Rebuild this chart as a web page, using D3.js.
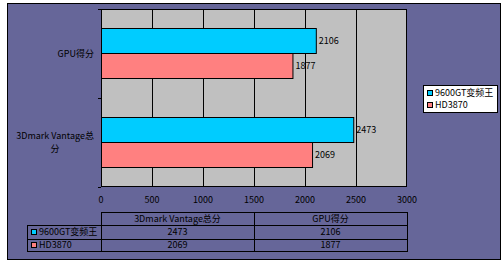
<!DOCTYPE html>
<html>
<head>
<meta charset="utf-8">
<script src="https://cdn.jsdelivr.net/npm/d3@7"></script>
<style>
body { margin: 0; background: #fff; }
text { font-family: "Noto Sans CJK SC", sans-serif; font-size: 9px; fill: #000; }
</style>
</head>
<body>
<div id="chart"></div>
<script>
// data
var categories = ['3Dmark Vantage总分', 'GPU得分'];
var seriesNames = ['9600GT变频王', 'HD3870'];
var seriesColors = ['#00ccff', '#ff8080'];
var values9600 = [2473, 2106];
var valuesHD = [2069, 1877];
var xTicks = [0, 500, 1000, 1500, 2000, 2500, 3000];

var series = [
    {name: seriesNames[0], color: seriesColors[0], values: values9600},
    {name: seriesNames[1], color: seriesColors[1], values: valuesHD}
];

var w = 504, h = 266;
var svg = d3.select('#chart').append('svg')
    .attr('width', w)
    .attr('height', h);

// outer frame
svg.append('rect')
    .attr('x', 7.5).attr('y', 3.5)
    .attr('width', 493).attr('height', 256)
    .attr('fill', '#666699')
    .attr('stroke', '#000');

var x = d3.scaleLinear().domain([0, 3000]).range([101, 407]);
// category order reversed like excel: first category at bottom
var y0 = d3.scaleBand().domain(categories.slice().reverse()).range([9, 187])
    .paddingInner(0.427).paddingOuter(0.2135);
var y1 = d3.scaleBand().domain(seriesNames).range([0, y0.bandwidth()]);

// plot background
svg.append('rect')
    .attr('x', x(0)).attr('y', 9)
    .attr('width', x(3000) - x(0)).attr('height', 178)
    .attr('fill', '#c0c0c0');

// gridlines
svg.append('g').selectAll('line')
    .data(xTicks.slice(1, -1))
    .enter().append('line')
    .attr('x1', function (d) { return Math.round(x(d)) + 0.5; })
    .attr('x2', function (d) { return Math.round(x(d)) + 0.5; })
    .attr('y1', 9).attr('y2', 187)
    .attr('stroke', '#000');

// bars
var groups = svg.append('g').selectAll('g')
    .data(categories)
    .enter().append('g')
    .attr('transform', function (d) { return 'translate(0,' + y0(d) + ')'; });

groups.selectAll('rect')
    .data(function (d, i) {
        return series.map(function (s) { return {name: s.name, color: s.color, value: s.values[i]}; });
    })
    .enter().append('rect')
    .attr('x', x(0) + 0.5)
    .attr('y', function (d) { return Math.round(y1(d.name)) + 0.5; })
    .attr('width', function (d) { return x(d.value) - x(0); })
    .attr('height', Math.round(y1.bandwidth()))
    .attr('fill', function (d) { return d.color; })
    .attr('stroke', '#000');

groups.selectAll('text.val')
    .data(function (d, i) {
        return series.map(function (s) { return {name: s.name, value: s.values[i]}; });
    })
    .enter().append('text')
    .attr('class', 'val')
    .attr('x', function (d) { return x(d.value) + 3; })
    .attr('y', function (d) { return y1(d.name) + y1.bandwidth() / 2; })
    .attr('dy', '0.35em')
    .text(function (d) { return d.value; });

// axes
svg.append('rect')
    .attr('x', x(0) + 0.5).attr('y', 9.5)
    .attr('width', x(3000) - x(0) - 1).attr('height', 177)
    .attr('fill', 'none').attr('stroke', '#000');

var bounds = [9, y0.step() * 0.2135 + 9 + y0.bandwidth() + y0.step() * 0.427 / 2, 187];
svg.append('g').selectAll('line')
    .data(bounds)
    .enter().append('line')
    .attr('x1', x(0) - 3).attr('x2', x(0))
    .attr('y1', function (d) { return Math.round(d) + 0.5; })
    .attr('y2', function (d) { return Math.round(d) + 0.5; })
    .attr('stroke', '#000');

svg.append('g').selectAll('text')
    .data(xTicks)
    .enter().append('text')
    .attr('x', function (d) { return x(d); })
    .attr('y', 200)
    .attr('dy', '0.35em')
    .attr('text-anchor', 'middle')
    .text(function (d) { return d; });

// category labels
categories.forEach(function (c) {
    var cy = y0(c) + y0.bandwidth() / 2;
    if (c.length > 10) {
        var t1 = svg.append('text')
            .attr('x', 94).attr('y', cy - 6.5).attr('dy', '0.35em')
            .attr('text-anchor', 'end')
            .text(c.slice(0, -1));
        var len = t1.node().getComputedTextLength();
        svg.append('text')
            .attr('x', 94 - len / 2).attr('y', cy + 6.5).attr('dy', '0.35em')
            .attr('text-anchor', 'middle')
            .text(c.slice(-1));
    } else {
        svg.append('text')
            .attr('x', 94).attr('y', cy).attr('dy', '0.35em')
            .attr('text-anchor', 'end')
            .text(c);
    }
});

// legend
var legend = svg.append('g').attr('transform', 'translate(423,85)');
legend.append('rect')
    .attr('x', 0.5).attr('y', 0.5)
    .attr('width', 74).attr('height', 27)
    .attr('fill', '#fff').attr('stroke', '#000');
var li = legend.selectAll('g')
    .data(series)
    .enter().append('g')
    .attr('transform', function (d, i) { return 'translate(0,' + (8 + i * 12) + ')'; });
li.append('rect')
    .attr('x', 4.5).attr('y', -2.5)
    .attr('width', 5).attr('height', 5)
    .attr('fill', function (d) { return d.color; })
    .attr('stroke', '#000');
li.append('text')
    .attr('x', 12).attr('dy', '0.35em')
    .text(function (d) { return d.name; });

// data table
var tx = d3.scaleBand().domain(categories).range([x(0), x(3000)]);
var rowY = d3.scaleBand().domain(['head'].concat(seriesNames)).range([212, 252]);
var table = svg.append('g').attr('stroke', '#000').attr('fill', 'none');
table.append('rect')
    .attr('x', x(0) + 0.5).attr('y', 212.5)
    .attr('width', x(3000) - x(0)).attr('height', 39);
table.append('rect')
    .attr('x', 27.5).attr('y', Math.round(rowY(seriesNames[0])) + 0.5)
    .attr('width', x(3000) - 27).attr('height', Math.round(rowY.bandwidth() * 2) - 1);
table.selectAll('line.h')
    .data(seriesNames)
    .enter().append('line')
    .attr('x1', 27.5).attr('x2', x(3000))
    .attr('y1', function (d) { return Math.round(rowY(d)) + 0.5; })
    .attr('y2', function (d) { return Math.round(rowY(d)) + 0.5; });
table.append('line')
    .attr('x1', Math.round(tx(categories[1])) + 0.5).attr('x2', Math.round(tx(categories[1])) + 0.5)
    .attr('y1', 212).attr('y2', 252);

svg.append('g').selectAll('text')
    .data(categories)
    .enter().append('text')
    .attr('x', function (d) { return tx(d) + tx.bandwidth() / 2; })
    .attr('y', rowY('head') + rowY.bandwidth() / 2)
    .attr('dy', '0.35em')
    .attr('text-anchor', 'middle')
    .text(function (d) { return d; });

series.forEach(function (s) {
    var ry = rowY(s.name) + rowY.bandwidth() / 2;
    svg.append('rect')
        .attr('x', 31.5).attr('y', Math.round(ry) - 2.5)
        .attr('width', 5).attr('height', 5)
        .attr('fill', s.color).attr('stroke', '#000');
    svg.append('text')
        .attr('x', 39).attr('y', ry).attr('dy', '0.35em')
        .text(s.name);
    svg.append('g').selectAll('text')
        .data(categories)
        .enter().append('text')
        .attr('x', function (d) { return tx(d) + tx.bandwidth() / 2; })
        .attr('y', ry)
        .attr('dy', '0.35em')
        .attr('text-anchor', 'middle')
        .text(function (d, i) { return s.values[i]; });
});
</script>
</body>
</html>
